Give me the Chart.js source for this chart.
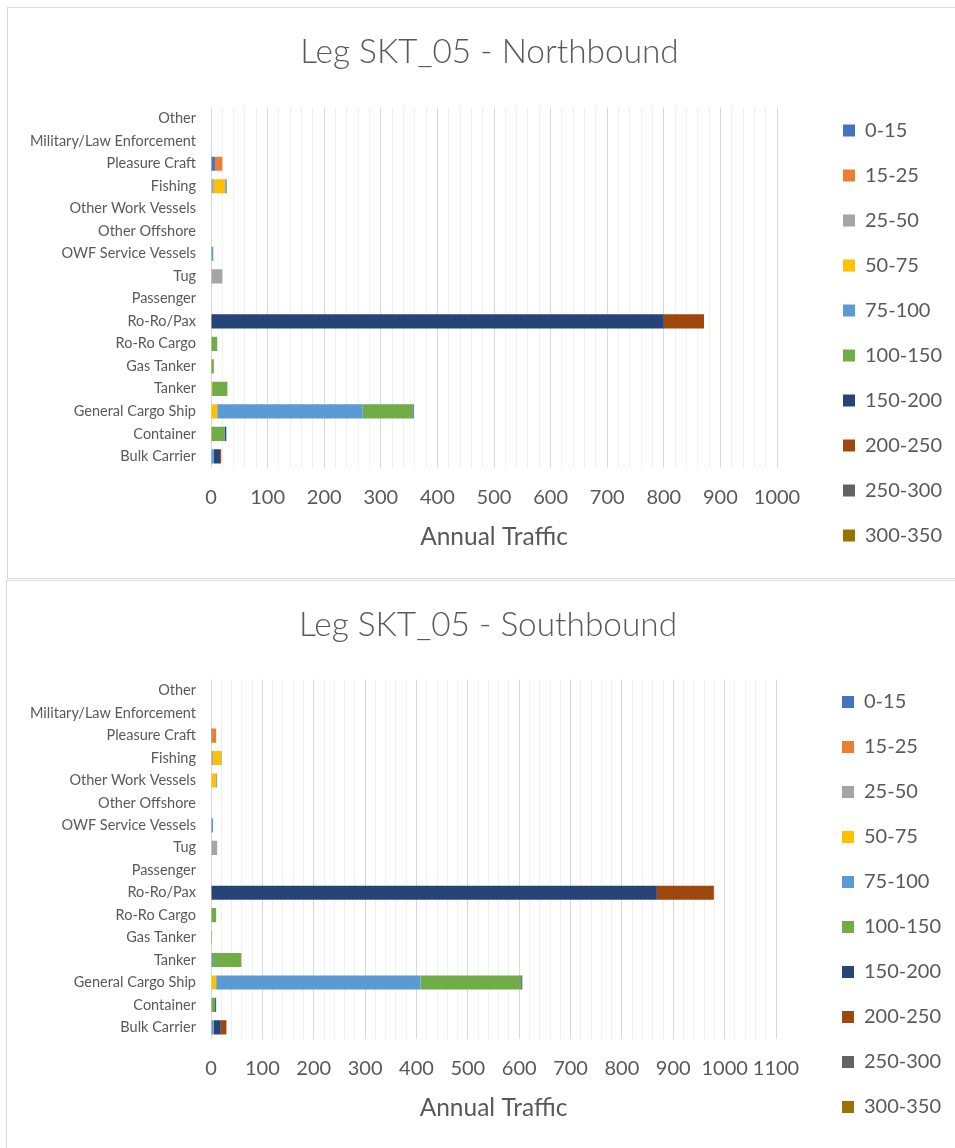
<!DOCTYPE html>
<html>
<head>
<meta charset="utf-8">
<script src="https://cdn.jsdelivr.net/npm/chart.js@4.4.1/dist/chart.umd.min.js"></script>
<style>
  body { margin: 0; background: #fff; overflow: hidden; }
  .box { position: absolute; border: 1px solid #d9d9d9; background: #fff; }
  canvas { display: block; }
</style>
</head>
<body>
<div class="box" style="left:7px; top:7px; width:970px; height:570px;">
  <canvas id="north" width="963" height="570"></canvas>
</div>
<div class="box" style="left:6px; top:580px; width:970px; height:580px;">
  <canvas id="south" width="962" height="567"></canvas>
</div>
<script>
'use strict';

// categories, top to bottom as shown
const categories = ['Other', 'Military/Law Enforcement', 'Pleasure Craft', 'Fishing',
  'Other Work Vessels', 'Other Offshore', 'OWF Service Vessels', 'Tug', 'Passenger',
  'Ro-Ro/Pax', 'Ro-Ro Cargo', 'Gas Tanker', 'Tanker', 'General Cargo Ship',
  'Container', 'Bulk Carrier'];

const bands = ['0-15', '15-25', '25-50', '50-75', '75-100', '100-150',
  '150-200', '200-250', '250-300', '300-350'];

// Northbound
const north_0_15    = [0, 0, 7, 0, 0, 0, 0, 0, 0, 0, 0, 0, 0, 0, 0, 0];
const north_15_25   = [0, 0, 13, 0, 0, 0, 0, 0, 0, 0, 0, 0, 0, 0, 0, 0];
const north_25_50   = [0, 0, 0, 5, 0, 0, 0, 20, 0, 0, 0, 0, 0, 0, 0, 0];
const north_50_75   = [0, 0, 0, 20, 0, 0, 0, 0, 0, 0, 0, 0, 2, 11, 0, 0];
const north_75_100  = [0, 0, 0, 3, 0, 0, 4, 0, 0, 0, 0, 0, 0, 257, 0, 5];
const north_100_150 = [0, 0, 0, 0, 0, 0, 0, 0, 0, 0, 11, 5, 27, 88, 24, 0];
const north_150_200 = [0, 0, 0, 0, 0, 0, 0, 0, 0, 800, 0, 0, 0, 2, 3, 11];
const north_200_250 = [0, 0, 0, 0, 0, 0, 0, 0, 0, 71, 0, 0, 0, 0, 0, 2];
const north_250_300 = [0, 0, 0, 0, 0, 0, 0, 0, 0, 0, 0, 0, 0, 0, 0, 0];
const north_300_350 = [0, 0, 0, 0, 0, 0, 0, 0, 0, 0, 0, 0, 0, 0, 0, 0];

// Southbound
const south_0_15    = [0, 0, 2, 0, 0, 0, 0, 0, 0, 0, 0, 0, 0, 0, 0, 0];
const south_15_25   = [0, 0, 8, 0, 0, 0, 0, 0, 0, 0, 0, 0, 0, 0, 0, 0];
const south_25_50   = [0, 0, 0, 4, 0, 0, 0, 12, 0, 0, 0, 0, 0, 0, 0, 0];
const south_50_75   = [0, 0, 0, 16, 10, 0, 0, 0, 0, 0, 0, 0, 0, 10, 0, 0];
const south_75_100  = [0, 0, 0, 1, 2, 0, 4, 0, 0, 0, 0, 0, 4, 398, 0, 4];
const south_100_150 = [0, 0, 0, 0, 0, 0, 0, 0, 0, 0, 10, 2, 55, 196, 8, 1];
const south_150_200 = [0, 0, 0, 0, 0, 0, 0, 0, 0, 868, 0, 0, 0, 2, 2, 14];
const south_200_250 = [0, 0, 0, 0, 0, 0, 0, 0, 0, 111, 0, 0, 0, 0, 0, 11];
const south_250_300 = [0, 0, 0, 0, 0, 0, 0, 0, 0, 0, 0, 0, 0, 0, 0, 0];
const south_300_350 = [0, 0, 0, 0, 0, 0, 0, 0, 0, 0, 0, 0, 0, 0, 0, 0];

const northSeries = [north_0_15, north_15_25, north_25_50, north_50_75, north_75_100,
  north_100_150, north_150_200, north_200_250, north_250_300, north_300_350];
const southSeries = [south_0_15, south_15_25, south_25_50, south_50_75, south_75_100,
  south_100_150, south_150_200, south_200_250, south_250_300, south_300_350];

const colours = ['#4472C4', '#ED7D31', '#A5A5A5', '#FFC000', '#5B9BD5',
  '#70AD47', '#264478', '#9E480E', '#636363', '#997300'];

const textColour = '#595959';
const fontFamily = 'Lato, "Open Sans", sans-serif';

// keeps the legend where Excel puts it: fixed reserved width, nudged right / down
const legendPlace = {
  id: 'legendPlace',
  afterInit(chart, args, opts) {
    const legend = chart.legend;
    const fit = legend.fit;
    legend.fit = function() {
      fit.call(this);
      this.width = opts.width;
    };
  },
  afterLayout(chart, args, opts) {
    const legend = chart.legend;
    legend.left += opts.dx;
    legend.right += opts.dx;
    legend.top += opts.dy;
    legend.bottom += opts.dy;
  }
};

const makeChart = function(id, title, series, max, lay) {
  const datasets = series.map((values, i) => ({
    label: bands[i],
    data: values,
    backgroundColor: colours[i],
    borderWidth: 0,
    barPercentage: 0.63,
    categoryPercentage: 1
  }));

  return new Chart(document.getElementById(id), {
    type: 'bar',
    data: { labels: categories, datasets: datasets },
    plugins: [legendPlace],
    options: {
      indexAxis: 'y',
      responsive: false,
      animation: false,
      layout: { padding: 0 },
      plugins: {
        tooltip: { enabled: false },
        title: {
          display: true,
          text: title,
          color: textColour,
          font: { family: fontFamily, size: 33.4, weight: 300 },
          padding: { top: 24, bottom: lay.titleBottom }
        },
        legend: {
          position: 'right',
          labels: {
            color: textColour,
            font: { family: fontFamily, size: 20 },
            boxWidth: 12,
            boxHeight: 12,
            padding: 25
          }
        },
        legendPlace: { width: lay.legendWidth, dx: lay.legendDx, dy: lay.legendDy }
      },
      scales: {
        x: {
          stacked: true,
          min: 0,
          max: max,
          border: { display: false },
          grid: {
            drawTicks: false,
            color: (ctx) => (ctx.tick && ctx.tick.value % 100 === 0) ? '#d9d9d9' : '#f0f0f0'
          },
          ticks: {
            stepSize: 20,
            autoSkip: false,
            maxRotation: 0,
            padding: lay.tickPad,
            color: textColour,
            font: { family: fontFamily, size: 20 },
            callback: (v) => v % 100 === 0 ? v : ''
          },
          title: {
            display: true,
            text: 'Annual Traffic',
            color: textColour,
            font: { family: fontFamily, size: 24.5 },
            padding: { top: lay.axisTitleTop, bottom: lay.axisTitleBottom }
          }
        },
        y: {
          stacked: true,
          border: { display: false },
          grid: { display: false, drawTicks: false },
          ticks: {
            padding: 15,
            color: textColour,
            font: { family: fontFamily, size: 14.5 }
          },
          afterFit: (axis) => { axis.width = lay.yWidth; }
        }
      }
    }
  });
};

makeChart('north', 'Leg SKT_05 - Northbound', northSeries, 1000,
  { titleBottom: 35.4, tickPad: 17.5, axisTitleTop: -4, axisTitleBottom: 26, yWidth: 203,
    legendWidth: 194, legendDx: 41, legendDy: 40 });

makeChart('south', 'Leg SKT_05 - Southbound', southSeries, 1100,
  { titleBottom: 34.4, tickPad: 18, axisTitleTop: -5, axisTitleBottom: 25, yWidth: 204,
    legendWidth: 193, legendDx: 41, legendDy: 40 });
</script>
</body>
</html>
